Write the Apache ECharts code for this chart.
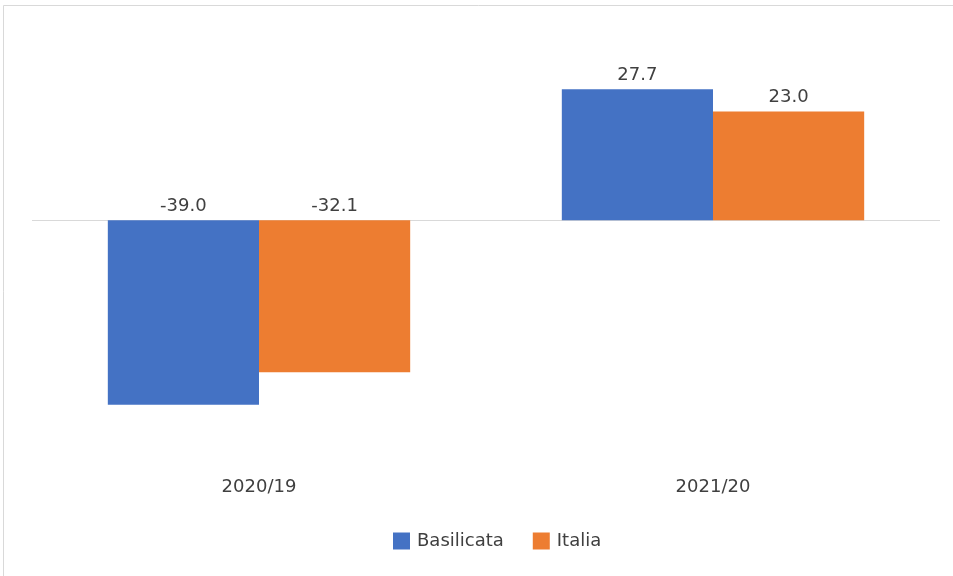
<!DOCTYPE html>
<html>
<head>
<meta charset="utf-8">
<script src="https://cdn.jsdelivr.net/npm/echarts@6/dist/echarts.min.js"></script>
<style>
  html, body { margin: 0; padding: 0; background: #ffffff; }
  #chart { width: 953px; height: 576px; }
</style>
</head>
<body>
<div id="chart"></div>
<script>
// Year-on-year change (%) by period
const categories = ['2020/19', '2021/20'];
const basilicata = [-39.0, 27.7];
const italia = [-32.1, 23.0];

const FONT = '"DejaVu Sans", "Noto Sans", sans-serif';
const TEXT = '#404040';

const chart = echarts.init(document.getElementById('chart'), null, { renderer: 'canvas' });

function labelCfg() {
  return {
    show: true,
    position: 'top',
    distance: 5,
    color: TEXT,
    fontFamily: FONT,
    fontSize: 18,
    formatter: p => p.value.toFixed(1)
  };
}

chart.setOption({
  animation: false,
  backgroundColor: '#ffffff',
  graphic: [{
    type: 'rect',
    shape: { x: 3.5, y: 5.5, width: 1000, height: 700 },
    style: { fill: 'none', stroke: '#d9d9d9', lineWidth: 1 },
    silent: true,
    z: -1
  }],
  grid: { left: 32, right: 13, top: 31.2, bottom: 576 - 456.8 },
  legend: {
    left: 388,
    top: 527,
    itemWidth: 17,
    itemHeight: 17,
    itemGap: 29,
    icon: 'rect',
    textStyle: { color: TEXT, fontFamily: FONT, fontSize: 18, padding: [0, 0, 0, 2] },
    data: ['Basilicata', 'Italia']
  },
  xAxis: {
    type: 'category',
    data: categories,
    axisLine: { show: false },
    axisTick: { show: false },
    axisLabel: { color: TEXT, fontFamily: FONT, fontSize: 18, margin: 22 }
  },
  yAxis: {
    type: 'value',
    min: -50,
    max: 40,
    show: false,
    splitLine: { show: false }
  },
  series: [
    {
      name: 'Basilicata',
      type: 'bar',
      data: basilicata,
      barGap: '0%',
      barCategoryGap: '33.4%',
      itemStyle: { color: '#4472C4' },
      label: labelCfg(),
      markLine: {
        silent: true,
        symbol: ['none', 'none'],
        label: { show: false },
        lineStyle: { color: '#d9d9d9', width: 1, type: 'solid' },
        data: [{ yAxis: 0 }],
        z: 1
      },
      z: 2
    },
    {
      name: 'Italia',
      type: 'bar',
      data: italia,
      itemStyle: { color: '#ED7D31' },
      label: labelCfg(),
      z: 2
    }
  ]
});
</script>
</body>
</html>
